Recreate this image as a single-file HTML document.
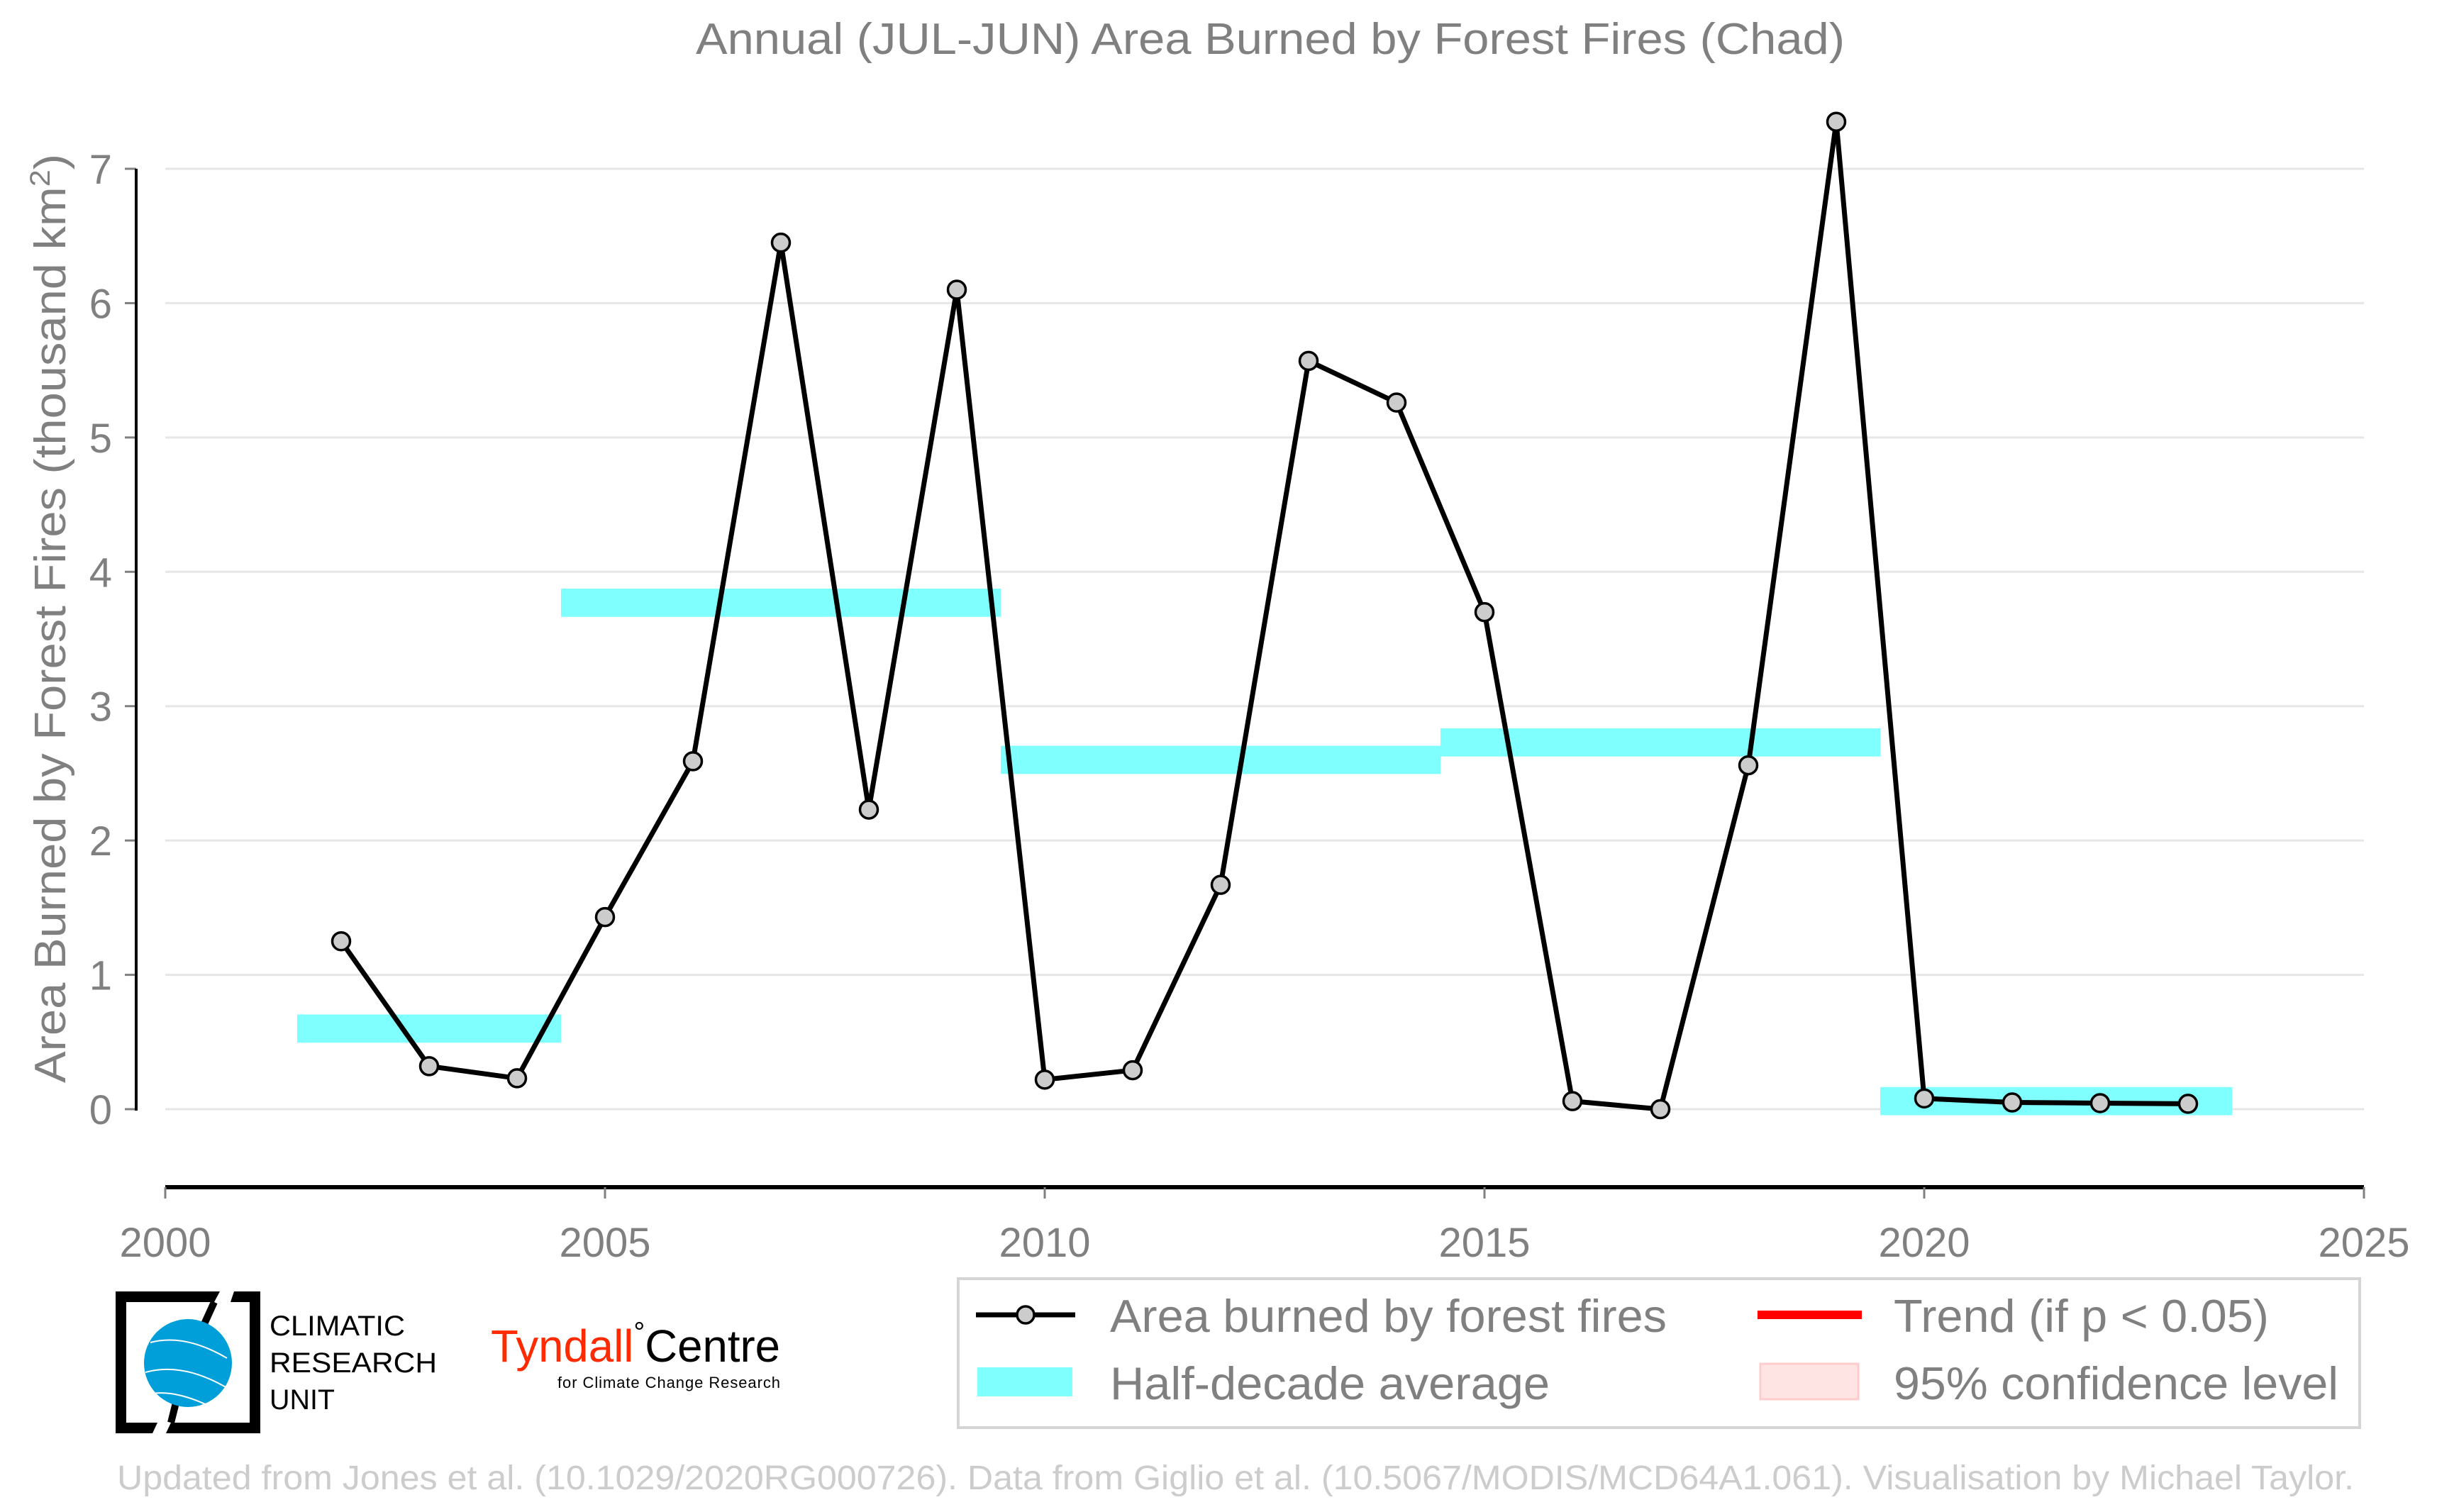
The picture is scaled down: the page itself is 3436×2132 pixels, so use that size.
<!DOCTYPE html>
<html><head><meta charset="utf-8"><style>
html,body{margin:0;padding:0;background:#fff;}
svg{display:block;font-family:"Liberation Sans",Arial,sans-serif;}
</style></head><body>
<svg id="chart" width="3436" height="2132" viewBox="0 0 3436 2132" xmlns="http://www.w3.org/2000/svg">
<text x="1791" y="76" font-size="62" fill="#808080" text-anchor="middle" textLength="1620" lengthAdjust="spacingAndGlyphs">Annual (JUL-JUN) Area Burned by Forest Fires (Chad)</text>
<g id="grid"></g>
<g id="bands"></g>
<g id="axes"></g>
<g id="series"></g>
<text transform="translate(92,872) rotate(-90)" font-size="62" fill="#808080" text-anchor="middle" textLength="1310" lengthAdjust="spacingAndGlyphs">Area Burned by Forest Fires (thousand km<tspan dy="-22" font-size="40">2</tspan><tspan dy="22">)</tspan></text>

<g>
<rect x="1351" y="1803" width="1976" height="210" fill="#fff" stroke="#d5d5d5" stroke-width="4"/>
<g>
<line x1="1376" y1="1854" x2="1516" y2="1854" stroke="#000" stroke-width="7"/>
<circle cx="1446" cy="1854" r="12" fill="#ccc" stroke="#000" stroke-width="3.5"/>
<text x="1565" y="1878" font-size="65" fill="#808080" textLength="785" lengthAdjust="spacingAndGlyphs">Area burned by forest fires</text></g>
<g>
<rect x="1378" y="1928" width="134" height="41" fill="#80ffff"/>
<text x="1565" y="1973" font-size="65" fill="#808080" textLength="620" lengthAdjust="spacingAndGlyphs">Half-decade average</text></g>
<g>
<line x1="2478" y1="1854" x2="2625" y2="1854" stroke="#ff0000" stroke-width="12"/>
<text x="2670" y="1878" font-size="65" fill="#808080" textLength="529" lengthAdjust="spacingAndGlyphs">Trend (if p &lt; 0.05)</text></g>
<g>
<rect x="2482" y="1923" width="138" height="50" fill="#ffe4e4" stroke="#ffcccc" stroke-width="3"/>
<text x="2670" y="1973" font-size="65" fill="#808080" textLength="627" lengthAdjust="spacingAndGlyphs">95% confidence level</text></g>
</g>

<g>
<path d="M163,1821 H310 L302,1836 H178 V2006 H222 L215,2021 H163 Z" fill="#000"/>
<path d="M330,1821 H367 V2021 H234 L241,2006 H352 V1836 H325 Z" fill="#000"/>
<path d="M302,1836 L282,1880 M241,2006 L250,1970" stroke="#000" stroke-width="10"/>
<ellipse cx="265" cy="1922" rx="62" ry="62" fill="#009fd9"/>
<path d="M212,1893 Q260,1880 320,1915 M205,1935 Q260,1920 325,1960 M215,1965 Q250,1960 300,1985" stroke="#fff" stroke-width="2" fill="none"/>
<text x="380" y="1883" font-size="40" fill="#000" textLength="191" lengthAdjust="spacingAndGlyphs">CLIMATIC</text>
<text x="380" y="1935" font-size="40" fill="#000" textLength="236" lengthAdjust="spacingAndGlyphs">RESEARCH</text>
<text x="380" y="1987" font-size="40" fill="#000" textLength="92" lengthAdjust="spacingAndGlyphs">UNIT</text>
</g>
<g>
<text x="692" y="1920" font-size="64" fill="#ff2a00" textLength="408" lengthAdjust="spacingAndGlyphs">Tyndall<tspan fill="#000" font-size="40" dy="-28">°</tspan><tspan fill="#000" dy="28">Centre</tspan></text>
<text x="786" y="1957" font-size="22" fill="#000" textLength="314">for Climate Change Research</text>
</g>
<text x="165" y="2100" font-size="48" fill="#cccccc" textLength="3154" lengthAdjust="spacingAndGlyphs">Updated from Jones et al. (10.1029/2020RG000726). Data from Giglio et al. (10.5067/MODIS/MCD64A1.061). Visualisation by Michael Taylor.</text>
</svg>
<script>
const years=[2002,2003,2004,2005,2006,2007,2008,2009,2010,2011,2012,2013,2014,2015,2016,2017,2018,2019,2020,2021,2022,2023];
const burned=[1.25,0.32,0.23,1.43,2.59,6.45,2.23,6.10,0.22,0.29,1.67,5.57,5.26,3.70,0.06,0.0,2.56,7.35,0.08,0.05,0.045,0.04];
const bandStart=[2001.5,2004.5,2009.5,2014.5,2019.5];
const bandEnd=[2004.5,2009.5,2014.5,2019.5,2023.5];
const bandMean=[0.60,3.77,2.60,2.73,0.06];
const yTicks=[0,1,2,3,4,5,6,7];
const xTicks=[2000,2005,2010,2015,2020,2025];

const NS="http://www.w3.org/2000/svg";
const X=v=>233+(v-2000)*(3333-233)/25;
const Y=v=>1564-v*(1564-238)/7;
function mk(tag,attrs,parent,txt){const e=document.createElementNS(NS,tag);for(const k in attrs)e.setAttribute(k,attrs[k]);if(txt!==undefined)e.textContent=txt;parent.appendChild(e);return e;}
const grid=document.getElementById('grid'),axes=document.getElementById('axes'),bands=document.getElementById('bands'),series=document.getElementById('series');
yTicks.forEach(t=>{
  const g=mk('line',{x1:233,x2:3333,y1:Y(t),y2:Y(t),stroke:'#e6e6e6','stroke-width':3},grid);
  
  
  const tk=mk('line',{x1:176,x2:192,y1:Y(t),y2:Y(t),stroke:'#808080','stroke-width':3},axes);
  
  
  const lb=mk('text',{x:158,y:Y(t)+21,'font-size':58,fill:'#808080','text-anchor':'end'},axes,String(t));
  
  
});
const ya=mk('line',{x1:192,x2:192,y1:238,y2:1566,stroke:'#000','stroke-width':4},axes);


const xa=mk('line',{x1:233,x2:3333,y1:1674,y2:1674,stroke:'#000','stroke-width':6},axes);


xTicks.forEach(t=>{
  const tk=mk('line',{x1:X(t),x2:X(t),y1:1674,y2:1690,stroke:'#808080','stroke-width':3},axes);
  
  
  const lb=mk('text',{x:X(t),y:1772,'font-size':58,fill:'#808080','text-anchor':'middle'},axes,String(t));
  
  
});
bandMean.forEach((m,i)=>{
  const r=mk('rect',{x:X(bandStart[i]),width:X(bandEnd[i])-X(bandStart[i]),y:Y(m+0.105),height:Y(m-0.105)-Y(m+0.105),fill:'#80ffff'},bands);
  
  
});
const pl=mk('polyline',{points:years.map((y,i)=>X(y)+','+Y(burned[i])).join(' '),fill:'none',stroke:'#000','stroke-width':7,'stroke-linejoin':'round'},series);


years.forEach((y,i)=>{
  const c=mk('circle',{cx:X(y),cy:Y(burned[i]),r:12.5,fill:'#cccccc',stroke:'#000','stroke-width':3.5},series);
  
  
});
</script>
</body></html>
